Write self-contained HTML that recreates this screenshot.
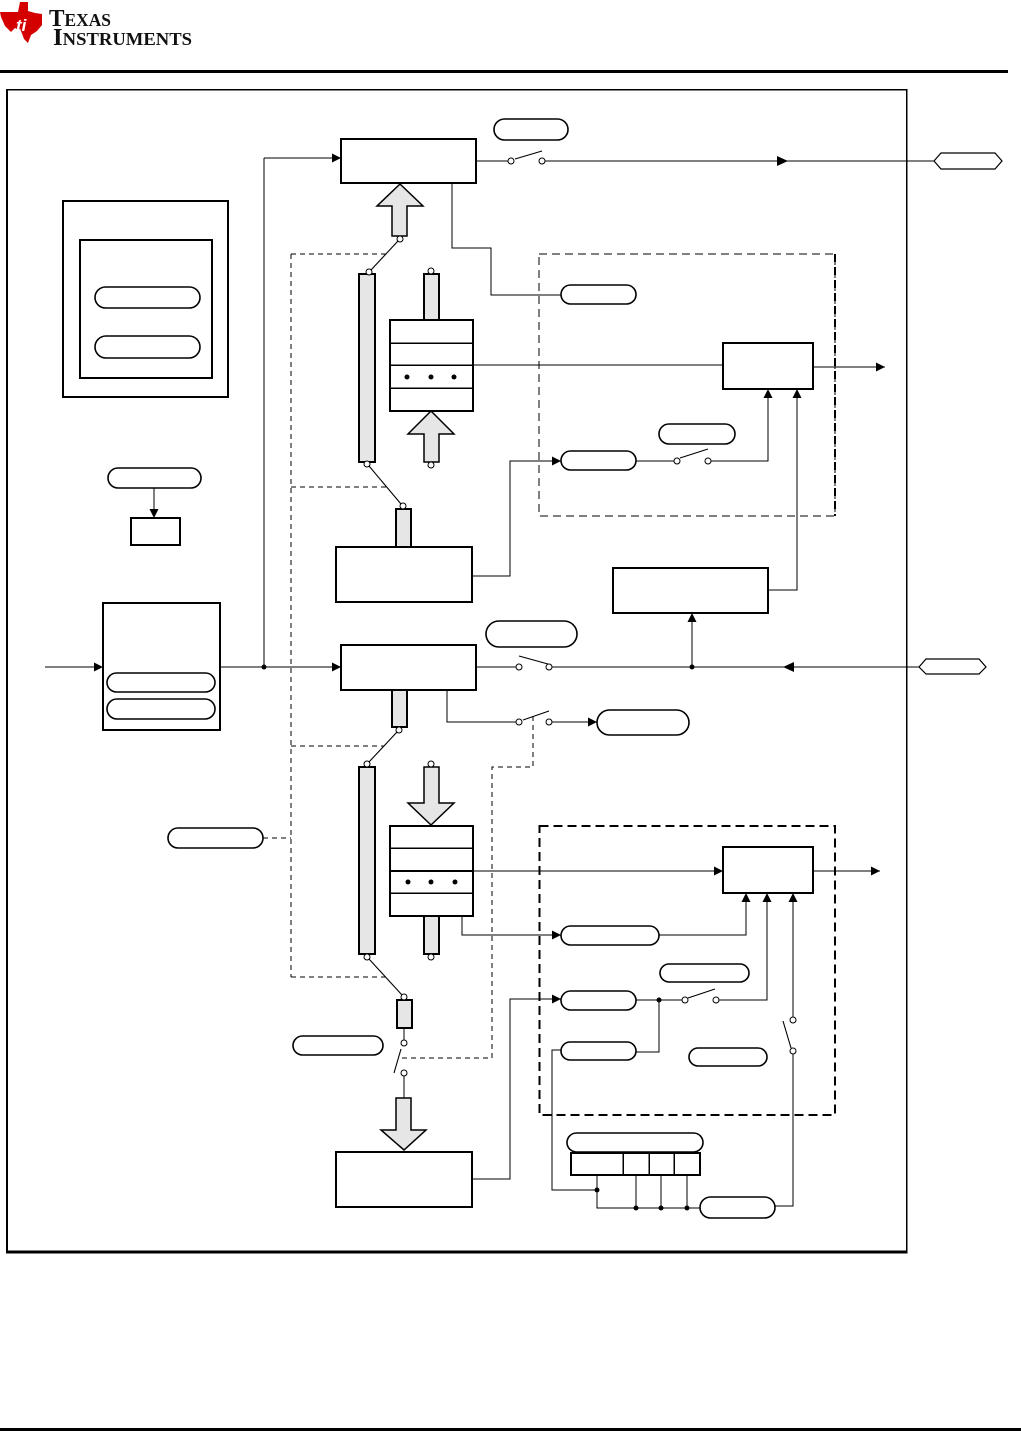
<!DOCTYPE html>
<html><head><meta charset="utf-8"><style>html,body{margin:0;padding:0;background:#fff}svg{display:block}</style></head>
<body>
<svg width="1021" height="1431" viewBox="0 0 1021 1431" xmlns="http://www.w3.org/2000/svg">
<defs>
<marker id="a" viewBox="0 0 10 10" refX="10" refY="5" markerWidth="11" markerHeight="9" markerUnits="userSpaceOnUse" orient="auto"><path d="M0,0L10,5L0,10z" fill="#000"/></marker>
</defs>
<rect width="1021" height="1431" fill="#fff"/>
<!-- TI logo -->
<polygon points="20,2 28,2 28,11 35,13 42,14 42,25 37,31 31,35 28,43 24,39 21,31 15,28 11,32 5,26 1,17 0,12 18,12" fill="#d40000"/>
<text x="16" y="31" font-family="Liberation Sans, sans-serif" font-size="17" font-weight="bold" font-style="italic" fill="#fff">ti</text>
<text x="49" y="26" font-family="Liberation Serif, serif" font-size="24" font-weight="bold" fill="#111" textLength="62" lengthAdjust="spacingAndGlyphs">T<tspan font-size="18">EXAS</tspan></text>
<text x="53" y="45" font-family="Liberation Serif, serif" font-size="24" font-weight="bold" fill="#111" textLength="139" lengthAdjust="spacingAndGlyphs">I<tspan font-size="18">NSTRUMENTS</tspan></text>
<rect x="0" y="70" width="1008" height="3" fill="#000"/>
<rect x="0" y="1428" width="1021" height="3" fill="#000"/>
<!-- main frame -->
<g shape-rendering="crispEdges">
<rect x="6.5" y="89.5" width="900" height="1163" fill="none" stroke="#000" stroke-width="1.5"/>
<line x1="6" y1="1252" x2="907" y2="1252" stroke="#000" stroke-width="3"/>
<line x1="7" y1="89" x2="7" y2="1253" stroke="#000" stroke-width="2"/>
</g>

<g fill="none" stroke="#000" stroke-width="1.2" shape-rendering="crispEdges">
<!-- dashed areas -->
<g stroke-dasharray="5,4" stroke-width="1">
<path d="M291,254V977"/><path d="M291,254H386"/><path d="M291,487H387"/><path d="M291,746H384"/><path d="M291,977H385"/><path d="M263,838H291"/>
<path d="M533,716V767H492V1058H398"/>
</g>
<rect x="539" y="254" width="296" height="262" stroke-dasharray="8,5" stroke-width="1.3"/>
<line x1="835" y1="254" x2="835" y2="516" stroke-dasharray="8,5" stroke-width="2"/>
<rect x="539.5" y="826" width="295.5" height="289" stroke-dasharray="9,5" stroke-width="2.2"/>

<!-- connectors -->
<path d="M264,158H341" marker-end="url(#a)"/>
<path d="M264,158V667"/>
<path d="M476,161H508"/><path d="M545,161H934"/>
<path d="M452,183V248H491V295H561"/>
<path d="M473,365H723"/>
<path d="M813,367H885" marker-end="url(#a)"/>
<path d="M636,461H674"/><path d="M711,461H768V389" marker-end="url(#a)"/>
<path d="M768,590H797V389" marker-end="url(#a)"/>
<path d="M472,576H510V461H561" marker-end="url(#a)"/>
<path d="M45,667H103" marker-end="url(#a)"/>
<path d="M220,667H341" marker-end="url(#a)"/>
<path d="M476,667H516"/><path d="M552,667H919"/>
<path d="M692,667V613" marker-end="url(#a)"/>
<path d="M447,690V722H516"/><path d="M552,722H597" marker-end="url(#a)"/>
<path d="M473,871H723" marker-end="url(#a)"/>
<path d="M813,871H880" marker-end="url(#a)"/>
<path d="M462,916V935H561" marker-end="url(#a)"/>
<path d="M659,935H746V893" marker-end="url(#a)"/>
<path d="M472,1179H510V999H561" marker-end="url(#a)"/>
<path d="M636,1000H682"/><path d="M719,1000H767V893" marker-end="url(#a)"/>
<path d="M659,1000V1052H636"/>
<path d="M561,1050H552V1190H597"/>
<path d="M793,1017V893" marker-end="url(#a)"/>
<path d="M793,1054V1206H775"/>
<path d="M597,1175V1208H700"/><path d="M636,1175V1208"/><path d="M661,1175V1208"/><path d="M687,1175V1208"/>
<path d="M154,488V518" marker-end="url(#a)"/>
<path d="M404,1028V1040"/><path d="M404,1076V1098"/>
</g>
<!-- diagonals / levers -->
<g fill="none" stroke="#000" stroke-width="1.1">
<path d="M398,241L371,270"/><path d="M369,466L401,504"/><path d="M397,732L369,762"/><path d="M369,959L402,995"/>
<path d="M515,159L542,151"/><path d="M680,458L708,449"/><path d="M519,656L548,664"/><path d="M523,720L549,711"/>
<path d="M688,998L715,989"/><path d="M783,1021L791,1048"/><path d="M401,1049L394,1073"/>
</g>
<!-- mid-line arrowheads -->
<polygon points="777,156 788,161 777,166" fill="#000"/>
<polygon points="783,667 794,662 794,672" fill="#000"/>
<!-- hexagons -->
<polygon points="934,161 941,153 995,153 1002,161 995,169 941,169" fill="#fff" stroke="#000" stroke-width="1.2"/>
<polygon points="919,667 926,659 979,659 986,667 979,674 926,674" fill="#fff" stroke="#000" stroke-width="1.2"/>

<!-- boxes -->
<g fill="#fff" stroke="#000" stroke-width="2" shape-rendering="crispEdges">
<rect x="341" y="139" width="135" height="44"/>
<rect x="723" y="343" width="90" height="46"/>
<rect x="613" y="568" width="155" height="45"/>
<rect x="336" y="547" width="136" height="55"/>
<rect x="341" y="645" width="135" height="45"/>
<rect x="103" y="603" width="117" height="127"/>
<rect x="723" y="847" width="90" height="46"/>
<rect x="336" y="1152" width="136" height="55"/>
<rect x="63" y="201" width="165" height="196"/>
<rect x="80" y="240" width="132" height="138"/>
<rect x="131" y="518" width="49" height="27"/>
<rect x="390" y="320" width="83" height="91"/>
<rect x="390" y="826" width="83" height="90"/>
<rect x="571" y="1153" width="129" height="22"/>
</g>
<g stroke="#000" stroke-width="1.5" shape-rendering="crispEdges">
<line x1="390" y1="343" x2="473" y2="343"/><line x1="390" y1="365" x2="473" y2="365"/><line x1="390" y1="388" x2="473" y2="388"/>
<line x1="390" y1="848" x2="473" y2="848"/><line x1="390" y1="871" x2="473" y2="871" stroke-width="2"/><line x1="390" y1="893" x2="473" y2="893"/>
<line x1="623" y1="1153" x2="623" y2="1175"/><line x1="649" y1="1153" x2="649" y2="1175"/><line x1="674" y1="1153" x2="674" y2="1175"/>
</g>
<g fill="#000">
<circle cx="407" cy="377" r="2.5"/><circle cx="431" cy="377" r="2.5"/><circle cx="454" cy="377" r="2.5"/>
<circle cx="408" cy="882" r="2.5"/><circle cx="431" cy="882" r="2.5"/><circle cx="455" cy="882" r="2.5"/>
<circle cx="264" cy="667" r="2.5"/><circle cx="692" cy="667" r="2.5"/><circle cx="659" cy="1000" r="2.5"/>
<circle cx="597" cy="1190" r="2.5"/><circle cx="636" cy="1208" r="2.5"/><circle cx="661" cy="1208" r="2.5"/><circle cx="687" cy="1208" r="2.5"/>
</g>
<!-- gray bars and block arrows -->
<g fill="#e6e6e6" stroke="#000" stroke-width="2" shape-rendering="crispEdges">
<rect x="359" y="274" width="16" height="188"/>
<rect x="424" y="274" width="15" height="46"/>
<rect x="396" y="509" width="15" height="38"/>
<rect x="392" y="690" width="15" height="37"/>
<rect x="359" y="767" width="16" height="187"/>
<rect x="424" y="916" width="15" height="38"/>
<rect x="397" y="1000" width="15" height="28"/>
</g>
<g fill="#e6e6e6" stroke="#000" stroke-width="1.5">
<polygon points="400,184 423,206 407,206 407,236 392,236 392,206 377,206"/>
<polygon points="431,411 454,434 439,434 439,462 424,462 424,434 408,434"/>
<polygon points="424,767 439,767 439,803 454,803 431,825 408,803 424,803"/>
<polygon points="396,1098 411,1098 411,1130 426,1130 404,1150 381,1130 396,1130"/>
</g>
<!-- pills -->
<g fill="#fff" stroke="#000" stroke-width="1.6">
<rect x="494" y="119" width="74" height="21" rx="10.5"/>
<rect x="561" y="285" width="75" height="19" rx="9.5"/>
<rect x="659" y="424" width="76" height="20" rx="10"/>
<rect x="561" y="451" width="75" height="19" rx="9.5"/>
<rect x="486" y="621" width="91" height="26" rx="13"/>
<rect x="597" y="710" width="92" height="25" rx="12.5"/>
<rect x="561" y="926" width="98" height="19" rx="9.5"/>
<rect x="660" y="964" width="89" height="18" rx="9"/>
<rect x="561" y="991" width="75" height="19" rx="9.5"/>
<rect x="561" y="1042" width="75" height="18" rx="9"/>
<rect x="689" y="1048" width="78" height="18" rx="9"/>
<rect x="567" y="1133" width="136" height="19" rx="9.5"/>
<rect x="700" y="1197" width="75" height="21" rx="10.5"/>
<rect x="293" y="1036" width="90" height="19" rx="9.5"/>
<rect x="95" y="287" width="105" height="21" rx="10.5"/>
<rect x="95" y="336" width="105" height="22" rx="11"/>
<rect x="108" y="468" width="93" height="20" rx="10"/>
<rect x="107" y="673" width="108" height="19" rx="9.5"/>
<rect x="107" y="699" width="108" height="20" rx="10"/>
<rect x="168" y="828" width="95" height="20" rx="10"/>
</g>
<!-- small circles -->
<g fill="#fff" stroke="#000" stroke-width="1">
<circle cx="511" cy="161" r="3"/><circle cx="542" cy="161" r="3"/>
<circle cx="400" cy="239" r="3"/><circle cx="369" cy="272" r="3"/><circle cx="431" cy="271" r="3"/>
<circle cx="367" cy="464" r="3"/><circle cx="431" cy="465" r="3"/><circle cx="403" cy="506" r="3"/>
<circle cx="677" cy="461" r="3"/><circle cx="708" cy="461" r="3"/>
<circle cx="519" cy="667" r="3"/><circle cx="549" cy="667" r="3"/>
<circle cx="519" cy="722" r="3"/><circle cx="549" cy="722" r="3"/>
<circle cx="399" cy="730" r="3"/><circle cx="367" cy="764" r="3"/><circle cx="431" cy="764" r="3"/>
<circle cx="367" cy="957" r="3"/><circle cx="431" cy="957" r="3"/><circle cx="404" cy="997" r="3"/>
<circle cx="404" cy="1043" r="3"/><circle cx="404" cy="1073" r="3"/>
<circle cx="685" cy="1000" r="3"/><circle cx="716" cy="1000" r="3"/>
<circle cx="793" cy="1020" r="3"/><circle cx="793" cy="1051" r="3"/>
</g>
</svg>
</body></html>
